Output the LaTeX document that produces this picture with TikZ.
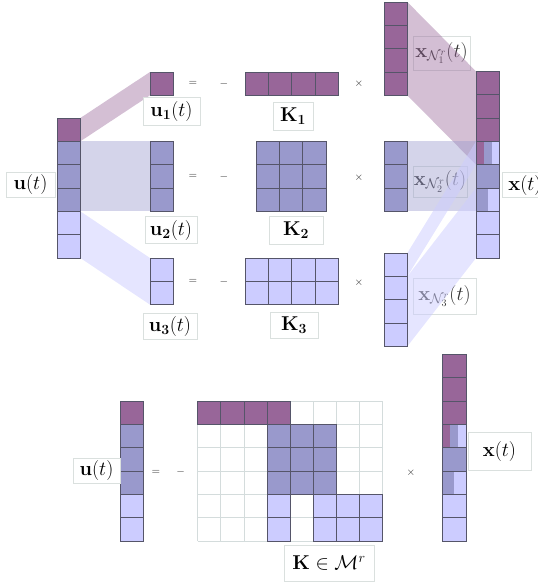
\RequirePackage{fix-cm}
\documentclass[tikz,border=0pt]{standalone}
\definecolor{cP}{RGB}{152,102,153}
\definecolor{cB}{RGB}{153,153,204}
\definecolor{cL}{RGB}{204,204,255}
\definecolor{cellline}{RGB}{85,85,105}
\definecolor{gridcol}{RGB}{212,220,220}
\definecolor{lblline}{RGB}{218,224,222}
\def\cs{23.33}
\newcommand\cellcol[3]{\foreach \c [count=\i from 0] in {#3} {\filldraw[cell,fill=\c] (#1,{#2+\i*\cs}) rectangle ++(\cs,\cs);}}
\newcommand\cellrow[3]{\foreach \c [count=\i from 0] in {#3} {\filldraw[cell,fill=\c] ({#1+\i*\cs},#2) rectangle ++(\cs,\cs);}}
\newcommand\xcolumn[2]{%
  \cellcol{#1}{#2}{cP,cP,cP,cP,cB,cB,cL,cL}%
  \fill[cP] (#1,{#2+3*\cs}) rectangle ++({\cs/3},\cs);
  \fill[cB] ({#1+\cs/3},{#2+3*\cs}) rectangle ++({\cs/3},\cs);
  \fill[cL] ({#1+2*\cs/3},{#2+3*\cs}) rectangle ++({\cs/3},\cs);
  \fill[cB] (#1,{#2+5*\cs}) rectangle ++({\cs/2},\cs);
  \fill[cL] ({#1+\cs/2},{#2+5*\cs}) rectangle ++({\cs/2},\cs);
  \draw[cell] (#1,{#2+3*\cs}) rectangle ++(\cs,\cs);
  \draw[cell] (#1,{#2+5*\cs}) rectangle ++(\cs,\cs);}
\begin{document}
\begin{tikzpicture}[x=1pt,y=-1pt,
  cell/.style={draw=cellline,line width=0.7pt},
  lbl/.style={draw=lblline,fill=white,line width=0.6pt,inner sep=0pt,font=\fontsize{20}{24}\selectfont},
  faint/.style={lbl,text opacity=0.8},
  opsym/.style={inner sep=0pt,font=\fontsize{11}{13}\selectfont,text=black!85},
  bandP/.style={fill=cP,fill opacity=0.42,draw=none},
  bandB/.style={fill=cB,fill opacity=0.42,draw=none},
  bandL/.style={fill=cL,fill opacity=0.5,draw=none},
  gridline/.style={draw=gridcol,line width=0.7pt}]
\useasboundingbox (0,0) rectangle (538,584);
% ---------- labels lying under the projection bands
\node[faint,minimum width=57pt,minimum height=34pt] (xn1) at (441.5,53) {$\mathbf{x}_{\mathcal{N}_1^r}(t)$};
\node[faint,minimum width=54pt,minimum height=31pt] (xn2) at (440,181.5) {$\mathbf{x}_{\mathcal{N}_2^r}(t)$};
\node[faint,minimum width=63pt,minimum height=36pt] (xn3) at (444.5,296) {$\mathbf{x}_{\mathcal{N}_3^r}(t)$};
% ---------- corner points of the columns (top part)
\coordinate (ur0) at (80.33,118);
\coordinate (ur1) at (80.33,141.33);
\coordinate (ur4) at (80.33,211.33);
\coordinate (ur6) at (80.33,258);
\coordinate (u1t) at (150,72);
\coordinate (u1b) at (150,95.33);
\coordinate (u2t) at (150,141.33);
\coordinate (u2b) at (150,211.33);
\coordinate (u3t) at (150,258);
\coordinate (u3b) at (150,304.67);
\coordinate (n1t) at (407.33,2);
\coordinate (n1b) at (407.33,95.33);
\coordinate (n2t) at (407.33,141.33);
\coordinate (n2b) at (407.33,211.33);
\coordinate (n3t) at (407.33,253);
\coordinate (n3m) at (407.33,276.33);
\coordinate (n3b) at (407.33,346.33);
\coordinate (xr0) at (476,71.33);
\coordinate (xr3) at (476,141.33);
\coordinate (xr4) at (476,164.67);
\coordinate (xr5) at (476,188);
\coordinate (xr6) at (476,211.33);
\coordinate (xr8) at (476,258);
% ---------- projection bands
\fill[bandP] (ur0) -- (u1t) -- (u1b) -- (ur1) -- cycle;
\fill[bandB] (ur1) -- (u2t) -- (u2b) -- (ur4) -- cycle;
\fill[bandL] (ur4) -- (u3t) -- (u3b) -- (ur6) -- cycle;
\fill[bandP] (n1t) -- (xr0) -- (xr4) -- (n1b) -- cycle;
\fill[bandB] (n2t) -- (xr3) -- (xr6) -- (n2b) -- cycle;
\fill[bandL] (n3t) -- (xr3) -- (xr4) -- (n3m) -- cycle;
\fill[bandL] (n3m) -- (xr5) -- (xr8) -- (n3b) -- cycle;
% ---------- top part cells
\cellcol{57}{118}{cP,cB,cB,cB,cL,cL}
\cellcol{150}{72}{cP}
\cellcol{150}{141.33}{cB,cB,cB}
\cellcol{150}{258}{cL,cL}
\cellrow{245}{72}{cP,cP,cP,cP}
\foreach \r in {0,1,2} {\cellrow{256}{141.33+\r*\cs}{cB,cB,cB}}
\foreach \r in {0,1} {\cellrow{245}{258+\r*\cs}{cL,cL,cL,cL}}
\cellcol{384}{2}{cP,cP,cP,cP}
\cellcol{384}{141.33}{cB,cB,cB}
\cellcol{384}{253}{cL,cL,cL,cL}
\xcolumn{476}{71.33}
% ---------- top part labels
\node[lbl,minimum width=49pt,minimum height=25pt] (ulab) at (30.5,184.5) {$\mathbf{u}(t)$};
\node[lbl,minimum width=57pt,minimum height=28pt] (u1lab) at (171.5,111.5) {$\mathbf{u_1}(t)$};
\node[lbl,minimum width=52pt,minimum height=27pt] (u2lab) at (171,230) {$\mathbf{u_2}(t)$};
\node[lbl,minimum width=54pt,minimum height=26pt] (u3lab) at (170,326) {$\mathbf{u_3}(t)$};
\node[lbl,minimum width=40pt,minimum height=28pt] (k1lab) at (293,116) {$\mathbf{K_1}$};
\node[lbl,minimum width=54pt,minimum height=28pt] (k2lab) at (296,230) {$\mathbf{K_2}$};
\node[lbl,minimum width=48pt,minimum height=26pt] (k3lab) at (294,325) {$\mathbf{K_3}$};
\node[lbl,minimum width=46pt,minimum height=25pt] (xlab) at (525,185) {$\mathbf{x}(t)$};
% ---------- operators
\node[opsym] (eq1) at (193,83.5) {$=$};
\node[opsym] (mi1) at (224,83.5) {$-$};
\node[opsym] (ti1) at (359,83.5) {$\times$};
\node[opsym] (eq2) at (193,176.5) {$=$};
\node[opsym] (mi2) at (224,176.5) {$-$};
\node[opsym] (ti2) at (359,177.5) {$\times$};
\node[opsym] (eq3) at (193,281.5) {$=$};
\node[opsym] (mi3) at (224,281.5) {$-$};
\node[opsym] (ti3) at (359,282.5) {$\times$};
% ---------- bottom part
\cellcol{120}{401}{cP,cB,cB,cB,cL,cL}
\foreach \i in {0,...,8} {\draw[gridline] ({197.7+\i*23.1},401) -- ++(0,{6*\cs});}
\foreach \j in {0,...,6} {\draw[gridline] (197.7,{401+\j*\cs}) -- ++({8*23.1},0);}
\foreach \i in {0,1,2,3} {\filldraw[cell,fill=cP] ({197.7+\i*23.1},401) rectangle ++(23.1,\cs);}
\foreach \r in {1,2,3} {\foreach \i in {3,4,5} {\filldraw[cell,fill=cB] ({197.7+\i*23.1},{401+\r*\cs}) rectangle ++(23.1,\cs);}}
\foreach \r in {4,5} {\foreach \i in {3,5,6,7} {\filldraw[cell,fill=cL] ({197.7+\i*23.1},{401+\r*\cs}) rectangle ++(23.1,\cs);}}
\xcolumn{442.7}{354.3}
\node[lbl,minimum width=47pt,minimum height=25pt] (ublab) at (96.5,470.5) {$\mathbf{u}(t)$};
\node[lbl,minimum width=90pt,minimum height=36pt] (kblab) at (329,563) {$\mathbf{K}\in\mathcal{M}^r$};
\node[lbl,minimum width=63pt,minimum height=38pt] (xblab) at (499.5,451) {$\mathbf{x}(t)$};
\node[opsym] (eqb) at (156,472) {$=$};
\node[opsym] (mib) at (180.7,472) {$-$};
\node[opsym] (tib) at (411,472.5) {$\times$};
\end{tikzpicture}
\end{document}
